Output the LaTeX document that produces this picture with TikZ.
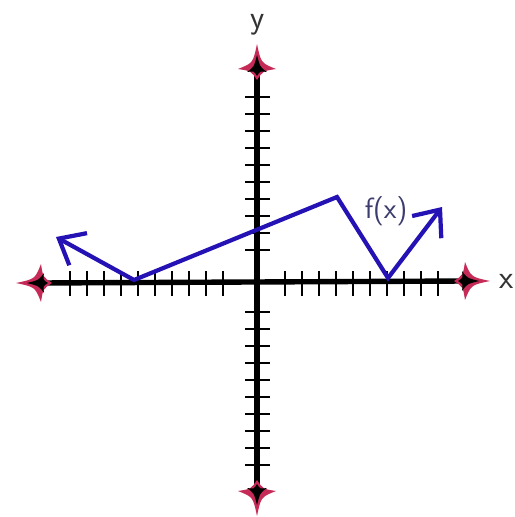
\documentclass[tikz,border=0pt]{standalone}
\usepackage{tikz}
\usetikzlibrary{arrows.meta, positioning, calc}
\usepackage{xcolor}
\definecolor{plotblue}{HTML}{2412B4}
\definecolor{starred}{HTML}{C62A57}
\definecolor{labelgray}{HTML}{3C3C6E}

\begin{document}
\begin{tikzpicture}[
  x=0.03cm, y=-0.03cm,
  axis/.style={line width=4.6pt, black},
  tick/.style={line width=2.4pt, black},
  graph/.style={line width=3.6pt, plotblue, line join=miter,
    {Straight Barb[length=0.66cm, width=1.1cm, line width=3.6pt]}-{Straight Barb[length=0.66cm, width=1.1cm, line width=3.6pt]}},
  lbl/.style={font=\sffamily\fontsize{28}{30}\selectfont, text=black!80, inner sep=0pt},
]
  \useasboundingbox (0,0) rectangle (514,517);
  % axes
  \coordinate (o) at (257,283);
  \coordinate (xl) at (40,283);
  \coordinate (xr) at (466,281);
  \coordinate (yt) at (257,68);
  \coordinate (yb) at (257,492);
  \draw[axis] (xl) -- (xr);
  \draw[axis] (yt) -- (yb);
  % ticks
  \foreach \t in {2,...,11} {
    \draw[tick] ($(o)+(-17*\t,-12)$) -- ++(0,25);
    \draw[tick] ($(o)+(17*\t-6,-12)$) -- ++(0,25);
    \draw[tick] ($(o)+(-12,-17*\t+1)$) -- ++(25,0);
    \draw[tick] ($(o)+(-12,17*\t-5)$) -- ++(25,0);
  }
  % axis ends
  \foreach \c/\r in {xl/180, xr/0, yt/90, yb/-90} {
    \begin{scope}[shift={(\c)}, rotate=\r]
      \fill[starred] (24,0) .. controls (5,4) .. (-1,19) .. controls (-3,6) .. (-12,0)
        .. controls (-3,-6) .. (-1,-19) .. controls (5,-4) .. (24,0);
      \fill[black] (13,0) .. controls (1,3) .. (-4,10) .. controls (-3,3) .. (-8,0)
        .. controls (-3,-3) .. (-4,-10) .. controls (1,-3) .. (13,0);
    \end{scope}
  }
  % graph of f
  \coordinate (p0) at (56,237);
  \coordinate (p1) at (134,280);
  \coordinate (p2) at (337,197);
  \coordinate (p3) at (388,278);
  \coordinate (p4) at (442,207);
  \draw[graph] (p0) -- (p1) -- (p2) -- (p3) -- (p4);
  % labels
  \node[lbl, text=labelgray, font=\sffamily\fontsize{25}{27}\selectfont] (fx) at (386,211) {f(x)};
  \node[lbl, anchor=base] (xlab) at (507,288) {x};
  \node[lbl, anchor=base] (ylab) at (258,29) {y};
\end{tikzpicture}
\end{document}
